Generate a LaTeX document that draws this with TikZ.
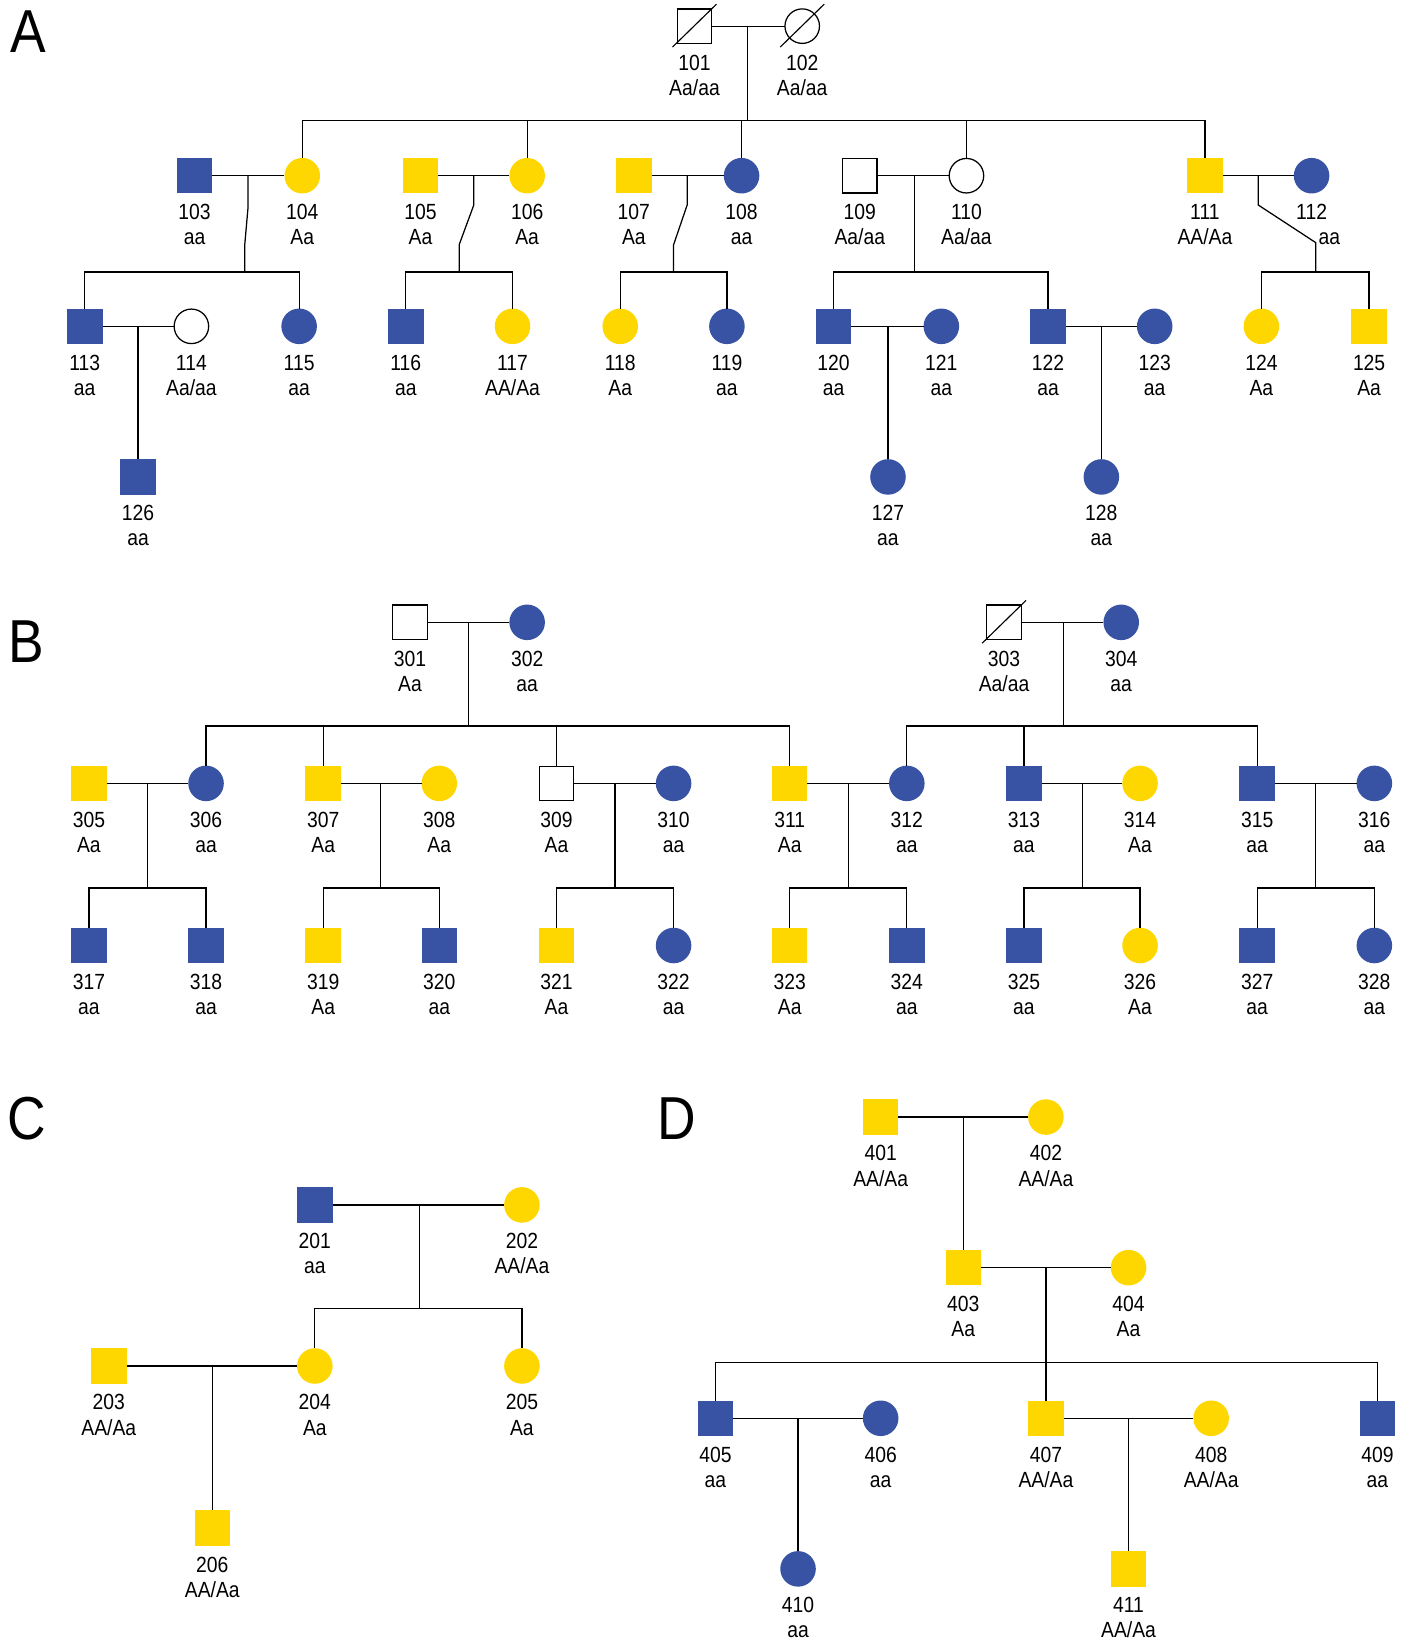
\documentclass[tikz,border=0pt]{standalone}
\usepackage{fontspec}
\setmainfont{Liberation Sans}[FakeStretch=0.88]
\definecolor{pblue}{HTML}{3953A4}
\definecolor{pyel}{HTML}{FFD700}
\tikzset{
  pbase/.style={inner sep=0pt, outer sep=0pt, minimum size=34pt},
  sqB/.style={pbase, rectangle, fill=pblue},
  sqY/.style={pbase, rectangle, fill=pyel},
  sqW/.style={pbase, rectangle, draw=black, fill=white, minimum size=33pt},
  ciB/.style={pbase, circle, fill=pblue},
  ciY/.style={pbase, circle, fill=pyel},
  ciW/.style={pbase, circle, draw=black, fill=white, minimum size=33pt},
  lbl/.style={anchor=base, inner sep=0pt, font=\fontsize{21}{24}\selectfont},
  panel/.style={anchor=base, inner sep=0pt, font=\fontsize{58}{60}\selectfont},
  slash/.style={line width=1.1pt},
}
% #1 x-shift of genotype, #2 id, #3 x, #4 y, #5 style, #6 genotype
\newcommand\mkp[6][0]{%
  \node[#5] (p#2) at (#3,#4) {};
  \node[lbl] (p#2n) at (#3,#4+42) {#2};
  \node[lbl] (p#2g) at (#3+#1,#4+66) {#6};}
\begin{document}
\begin{tikzpicture}[x=1pt, y=-1pt, line width=1.2pt]
\useasboundingbox (0,0) rectangle (1344,1568);
% ---------------- panel letters
\node[panel] (LA) at (27,50) {A};
\node[panel] (LB) at (25,633) {B};
\node[panel] (LC) at (26,1089) {C};
\node[panel] (LD) at (647,1089) {D};
% ================= PANEL A
\mkp{101}{664}{25}{sqW}{Aa/aa}
\mkp{102}{767}{25}{ciW}{Aa/aa}
\mkp{103}{186}{168}{sqB}{aa}
\mkp{104}{289}{168}{ciY}{Aa}
\mkp{105}{402}{168}{sqY}{Aa}
\mkp{106}{504}{168}{ciY}{Aa}
\mkp{107}{606}{168}{sqY}{Aa}
\mkp{108}{709}{168}{ciB}{aa}
\mkp{109}{822}{168}{sqW}{Aa/aa}
\mkp{110}{924}{168}{ciW}{Aa/aa}
\mkp{111}{1152}{168}{sqY}{AA/Aa}
\mkp[17]{112}{1254}{168}{ciB}{aa}
\mkp{113}{81}{312}{sqB}{aa}
\mkp{114}{183}{312}{ciW}{Aa/aa}
\mkp{115}{286}{312}{ciB}{aa}
\mkp{116}{388}{312}{sqB}{aa}
\mkp{117}{490}{312}{ciY}{AA/Aa}
\mkp{118}{593}{312}{ciY}{Aa}
\mkp{119}{695}{312}{ciB}{aa}
\mkp{120}{797}{312}{sqB}{aa}
\mkp{121}{900}{312}{ciB}{aa}
\mkp{122}{1002}{312}{sqB}{aa}
\mkp{123}{1104}{312}{ciB}{aa}
\mkp{124}{1206}{312}{ciY}{Aa}
\mkp{125}{1309}{312}{sqY}{Aa}
\mkp{126}{132}{456}{sqB}{aa}
\mkp{127}{849}{456}{ciB}{aa}
\mkp{128}{1053}{456}{ciB}{aa}
% deceased marks
\draw[slash] ([shift={(-21,20)}]p101.center) -- ([shift={(21,-21)}]p101.center);
\draw[slash] ([shift={(-21,20)}]p102.center) -- ([shift={(21,-21)}]p102.center);
% connectors
\draw (p101) -- (p102);
\coordinate (a1) at (715,25); \coordinate (a1s) at (715,115);
\draw (a1) -- (a1s);
\draw (p104) |- (a1s) -| (p111);
\draw (p106) -- (p106 |- a1s);
\draw (p108) -- (p108 |- a1s);
\draw (p110) -- (p110 |- a1s);
% 103 x 104
\draw (p103) -- (p104);
\coordinate (a2) at (237,168); \coordinate (a2b) at (237,200); \coordinate (a2c) at (234,234); \coordinate (a2s) at (234,260);
\draw (a2) -- (a2b) -- (a2c) -- (a2s);
\draw (p113) |- (a2s) -| (p115);
% 105 x 106
\draw (p105) -- (p106);
\coordinate (a3) at (453,168); \coordinate (a3b) at (453,196); \coordinate (a3c) at (439,234); \coordinate (a3s) at (439,260);
\draw (a3) -- (a3b) -- (a3c) -- (a3s);
\draw (p116) |- (a3s) -| (p117);
% 107 x 108
\draw (p107) -- (p108);
\coordinate (a4) at (657,168); \coordinate (a4b) at (657,196); \coordinate (a4c) at (644,234); \coordinate (a4s) at (644,260);
\draw (a4) -- (a4b) -- (a4c) -- (a4s);
\draw (p118) |- (a4s) -| (p119);
% 109 x 110
\draw (p109) -- (p110);
\coordinate (a5) at (874,168); \coordinate (a5s) at (874,260);
\draw (a5) -- (a5s);
\draw (p120) |- (a5s) -| (p122);
% 111 x 112
\draw (p111) -- (p112);
\coordinate (a6) at (1203,168); \coordinate (a6b) at (1203,196); \coordinate (a6c) at (1258,232); \coordinate (a6s) at (1258,260);
\draw (a6) -- (a6b) -- (a6c) -- (a6s);
\draw (p124) |- (a6s) -| (p125);
% 113 x 114
\draw (p113) -- (p114);
\coordinate (a7) at (132,312); \draw (a7) -- (p126);
% 120 x 121
\draw (p120) -- (p121);
\coordinate (a8) at (849,312); \draw (a8) -- (p127);
% 122 x 123
\draw (p122) -- (p123);
\coordinate (a9) at (1053,312); \draw (a9) -- (p128);
% ================= PANEL B
\mkp{301}{392}{595}{sqW}{Aa}
\mkp{302}{504}{595}{ciB}{aa}
\mkp{303}{960}{595}{sqW}{Aa/aa}
\mkp{304}{1072}{595}{ciB}{aa}
\mkp{305}{85}{749}{sqY}{Aa}
\mkp{306}{197}{749}{ciB}{aa}
\mkp{307}{309}{749}{sqY}{Aa}
\mkp{308}{420}{749}{ciY}{Aa}
\mkp{309}{532}{749}{sqW}{Aa}
\mkp{310}{644}{749}{ciB}{aa}
\mkp{311}{755}{749}{sqY}{Aa}
\mkp{312}{867}{749}{ciB}{aa}
\mkp{313}{979}{749}{sqB}{aa}
\mkp{314}{1090}{749}{ciY}{Aa}
\mkp{315}{1202}{749}{sqB}{aa}
\mkp{316}{1314}{749}{ciB}{aa}
\mkp{317}{85}{904}{sqB}{aa}
\mkp{318}{197}{904}{sqB}{aa}
\mkp{319}{309}{904}{sqY}{Aa}
\mkp{320}{420}{904}{sqB}{aa}
\mkp{321}{532}{904}{sqY}{Aa}
\mkp{322}{644}{904}{ciB}{aa}
\mkp{323}{755}{904}{sqY}{Aa}
\mkp{324}{867}{904}{sqB}{aa}
\mkp{325}{979}{904}{sqB}{aa}
\mkp{326}{1090}{904}{ciY}{Aa}
\mkp{327}{1202}{904}{sqB}{aa}
\mkp{328}{1314}{904}{ciB}{aa}
\draw[slash] ([shift={(-21,20)}]p303.center) -- ([shift={(21,-21)}]p303.center);
\draw (p301) -- (p302);
\coordinate (b1) at (448,595); \coordinate (b1s) at (448,694);
\draw (b1) -- (b1s);
\draw (p306) |- (b1s) -| (p311);
\draw (p307) -- (p307 |- b1s);
\draw (p309) -- (p309 |- b1s);
\draw (p303) -- (p304);
\coordinate (b2) at (1017,595); \coordinate (b2s) at (1017,694);
\draw (b2) -- (b2s);
\draw (p312) |- (b2s) -| (p315);
\draw (p313) -- (p313 |- b2s);
\draw (p305) -- (p306);
\coordinate (b3) at (141,749); \coordinate (b3s) at (141,849);
\draw (b3) -- (b3s); \draw (p317) |- (b3s) -| (p318);
\draw (p307) -- (p308);
\coordinate (b4) at (364,749); \coordinate (b4s) at (364,849);
\draw (b4) -- (b4s); \draw (p319) |- (b4s) -| (p320);
\draw (p309) -- (p310);
\coordinate (b5) at (588,749); \coordinate (b5s) at (588,849);
\draw (b5) -- (b5s); \draw (p321) |- (b5s) -| (p322);
\draw (p311) -- (p312);
\coordinate (b6) at (811,749); \coordinate (b6s) at (811,849);
\draw (b6) -- (b6s); \draw (p323) |- (b6s) -| (p324);
\draw (p313) -- (p314);
\coordinate (b7) at (1035,749); \coordinate (b7s) at (1035,849);
\draw (b7) -- (b7s); \draw (p325) |- (b7s) -| (p326);
\draw (p315) -- (p316);
\coordinate (b8) at (1258,749); \coordinate (b8s) at (1258,849);
\draw (b8) -- (b8s); \draw (p327) |- (b8s) -| (p328);
% ================= PANEL C
\mkp{201}{301}{1152}{sqB}{aa}
\mkp{202}{499}{1152}{ciY}{AA/Aa}
\mkp{203}{104}{1306}{sqY}{AA/Aa}
\mkp{204}{301}{1306}{ciY}{Aa}
\mkp{205}{499}{1306}{ciY}{Aa}
\mkp{206}{203}{1461}{sqY}{AA/Aa}
\draw (p201) -- (p202);
\coordinate (c1) at (401,1152); \coordinate (c1s) at (401,1251);
\draw (c1) -- (c1s); \draw (p204) |- (c1s) -| (p205);
\draw (p203) -- (p204);
\coordinate (c2) at (203,1306); \draw (c2) -- (p206);
% ================= PANEL D
\mkp{401}{842}{1068}{sqY}{AA/Aa}
\mkp{402}{1000}{1068}{ciY}{AA/Aa}
\mkp{403}{921}{1212}{sqY}{Aa}
\mkp{404}{1079}{1212}{ciY}{Aa}
\mkp{405}{684}{1356}{sqB}{aa}
\mkp{406}{842}{1356}{ciB}{aa}
\mkp{407}{1000}{1356}{sqY}{AA/Aa}
\mkp{408}{1158}{1356}{ciY}{AA/Aa}
\mkp{409}{1317}{1356}{sqB}{aa}
\mkp{410}{763}{1500}{ciB}{aa}
\mkp{411}{1079}{1500}{sqY}{AA/Aa}
\draw (p401) -- (p402);
\coordinate (d1) at (921,1068); \draw (d1) -- (p403);
\draw (p403) -- (p404);
\coordinate (d2) at (1000,1212); \coordinate (d2s) at (1000,1303);
\draw (d2) -- (d2s); \draw (p405) |- (d2s) -| (p409);
\draw (p407) -- (p407 |- d2s);
\draw (p405) -- (p406);
\coordinate (d3) at (763,1356); \draw (d3) -- (p410);
\draw (p407) -- (p408);
\coordinate (d4) at (1079,1356); \draw (d4) -- (p411);
\end{tikzpicture}
\end{document}
